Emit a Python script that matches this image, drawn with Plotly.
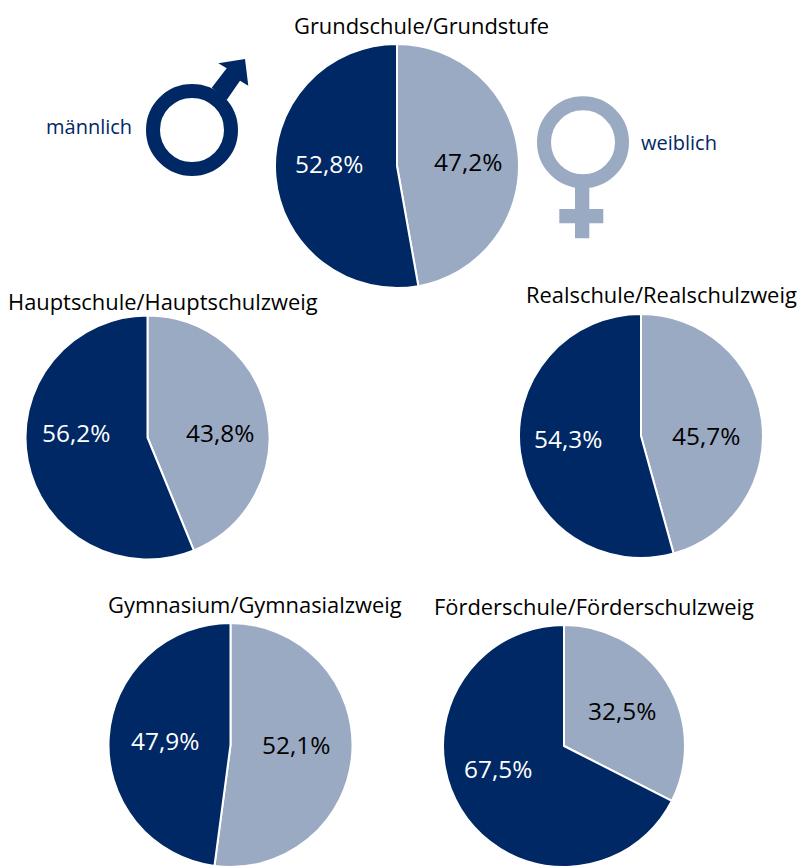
import plotly.graph_objects as go

W, H = 799, 867
FONT = "Open Sans"
DARK = "#002864"
LIGHT = "#9BAAC3"

school_types = ["Grundschule/Grundstufe", "Hauptschule/Hauptschulzweig", "Realschule/Realschulzweig",
                "Gymnasium/Gymnasialzweig", "Förderschule/Förderschulzweig"]
female = [47.2, 43.8, 45.7, 52.1, 32.5]
male = [52.8, 56.2, 54.3, 47.9, 67.5]
genders = ["weiblich", "männlich"]

centers = [(397, 166), (147.5, 437.5), (641, 436), (230.5, 745), (564, 746)]
radii = [122, 122, 122, 122, 121]
title_pos = [(422, 26), (163, 301), (661.5, 294), (255, 604), (593.5, 606)]
male_label_pos = [(329, 163), (75.5, 432), (568, 438), (165, 740), (498, 768)]
female_label_pos = [(468, 162), (219.5, 432), (706, 435), (295.5, 744), (622, 710)]


def px(x):
    return x / W


def py(y):
    return 1 - y / H


def path(points):
    return "M " + " L ".join(f"{px(x):.5f},{py(y):.5f}" for x, y in points) + " Z"


def note(text, pos, size, color):
    return dict(x=px(pos[0]), y=py(pos[1]), text=text, xref="paper", yref="paper", showarrow=False,
                xanchor="center", yanchor="middle", font=dict(family=FONT, size=size, color=color))


def pct(value):
    return f"{value:.1f}%".replace(".", ",")


fig = go.Figure()
for name, f, m, (cx, cy), r in zip(school_types, female, male, centers, radii):
    fig.add_trace(go.Pie(
        labels=genders, values=[f, m], name=name, sort=False, direction="clockwise", rotation=0,
        domain=dict(x=[px(cx - r), px(cx + r)], y=[py(cy + r), py(cy - r)]),
        marker=dict(colors=[LIGHT, DARK], line=dict(color="white", width=2)),
        textinfo="none", showlegend=False,
    ))

annotations = [note(t, p, 21.9, "black") for t, p in zip(school_types, title_pos)]
annotations += [note(pct(v), p, 24.4, "white") for v, p in zip(male, male_label_pos)]
annotations += [note(pct(v), p, 24.4, "black") for v, p in zip(female, female_label_pos)]
annotations += [note("männlich", (89, 126), 20, DARK), note("weiblich", (679, 143), 20, DARK)]


def ring(cx, cy, r, color):
    return dict(type="circle", xref="paper", yref="paper", x0=px(cx - r), x1=px(cx + r), y0=py(cy + r), y1=py(cy - r),
                line=dict(color=color, width=14), fillcolor="rgba(0,0,0,0)")


def solid(points, color):
    return dict(type="path", xref="paper", yref="paper", path=path(points), fillcolor=color, line=dict(width=0))


shapes = [
    ring(192, 130, 39, DARK),
    solid([(211.7, 87.7), (226.7, 68.3), (218.3, 63.3), (245, 59), (248.3, 85.7), (240, 80.7), (226.7, 100)], DARK),
    ring(583, 142.3, 39, LIGHT),
    solid([(575, 187), (589.3, 187), (589.3, 209), (603.3, 209), (603.3, 223.3), (589.3, 223.3), (589.3, 238.3),
           (575, 238.3), (575, 223.3), (559.3, 223.3), (559.3, 209), (575, 209)], LIGHT),
]

fig.update_layout(width=W, height=H, margin=dict(l=0, r=0, t=0, b=0), separators=",.",
                  paper_bgcolor="white", annotations=annotations, shapes=shapes)
fig.write_html("out.html", config={"displayModeBar": False}, post_script="document.body.style.margin='0';")
